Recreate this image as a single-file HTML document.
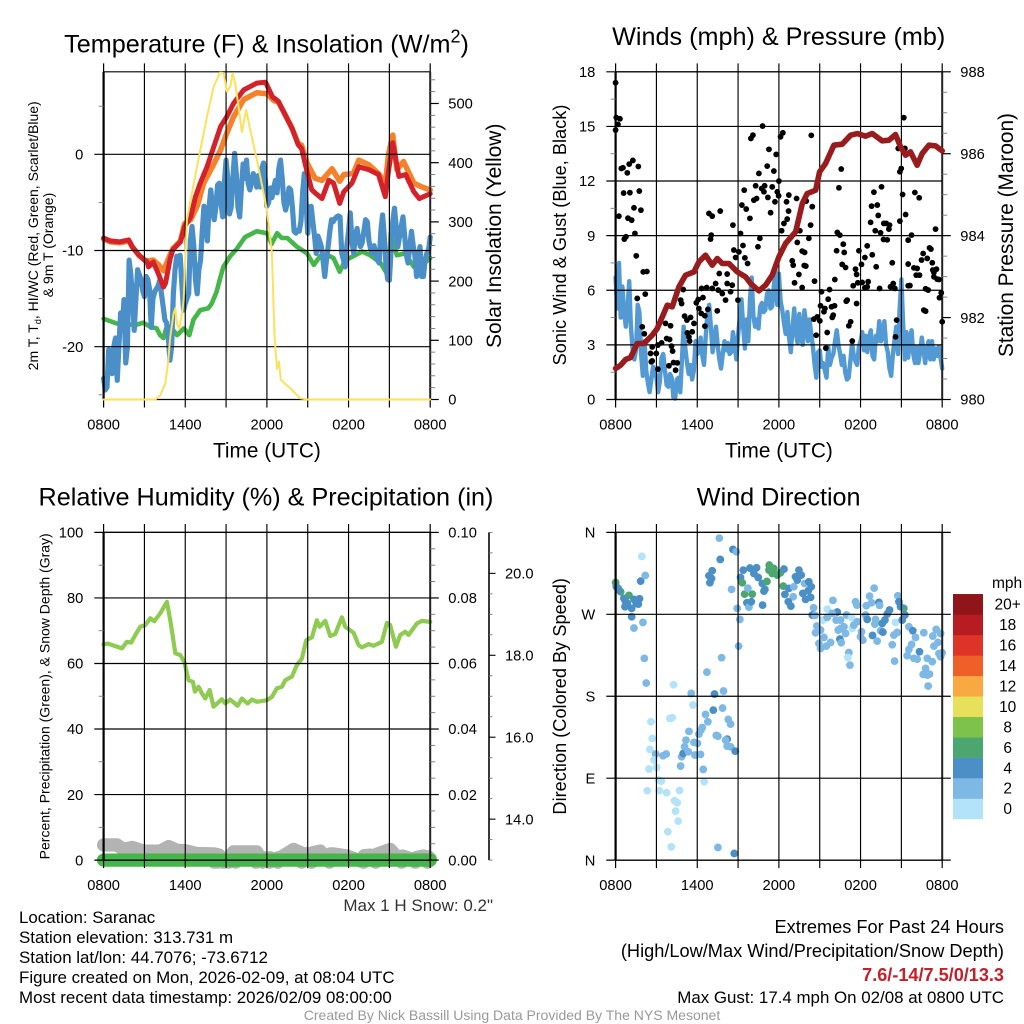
<!DOCTYPE html>
<html lang="en">
<head>
<meta charset="utf-8">
<title>NYS Mesonet Station Meteogram - Saranac</title>
<style>
html,body{margin:0;padding:0;background:#fff;}
svg{display:block;font-family:"Liberation Sans",sans-serif;}
</style>
</head>
<body>
<svg id="fig" xmlns="http://www.w3.org/2000/svg" width="1024" height="1024" viewBox="0 0 1024 1024">
<rect width="1024" height="1024" fill="#fff"/>
<defs><clipPath id="tempClip"><rect x="100" y="71.8" width="335" height="330"/></clipPath></defs>
<g id="layer"></g>
<g fill="#000">
<text x="266.5" y="52.7" font-size="25.2" text-anchor="middle">Temperature (F) &amp; Insolation (W/m<tspan font-size="18" dy="-10">2</tspan><tspan dy="10">)</tspan></text>
<text x="778.7" y="45" font-size="25.2" text-anchor="middle">Winds (mph) &amp; Pressure (mb)</text>
<text x="266" y="505.7" font-size="25.2" text-anchor="middle">Relative Humidity (%) &amp; Precipitation (in)</text>
<text x="778.7" y="505.7" font-size="25.2" text-anchor="middle">Wind Direction</text>
<text x="266.9" y="457.3" font-size="20.8" text-anchor="middle">Time (UTC)</text>
<text x="778.9" y="457.3" font-size="20.8" text-anchor="middle">Time (UTC)</text>
<text transform="translate(37.8,235.8) rotate(-90)" font-size="14" text-anchor="middle">2m T, T<tspan font-size="9" dy="3">d</tspan><tspan dy="-3">, HI/WC (Red, Green, Scarlet/Blue)</tspan></text>
<text transform="translate(53,245) rotate(-90)" font-size="14" text-anchor="middle">&amp; 9m T (Orange)</text>
<text transform="translate(501,235.8) rotate(-90)" font-size="21" text-anchor="middle">Solar Insolation (Yellow)</text>
<text transform="translate(566,235) rotate(-90)" font-size="18.2" text-anchor="middle">Sonic Wind &amp; Gust (Blue, Black)</text>
<text transform="translate(1013,235) rotate(-90)" font-size="20.8" text-anchor="middle">Station Pressure (Maroon)</text>
<text transform="translate(49.3,696.3) rotate(-90)" font-size="14" text-anchor="middle">Percent, Precipitation (Green), &amp; Snow Depth (Gray)</text>
<text transform="translate(566,696.3) rotate(-90)" font-size="18.2" text-anchor="middle">Direction (Colored By Speed)</text>
<text x="992" y="588" font-size="15.5">mph</text>
<text x="493" y="911" font-size="17" text-anchor="end" fill="#333">Max 1 H Snow: 0.2"</text>
<text x="19" y="923" font-size="16.9">Location: Saranac</text>
<text x="19" y="943" font-size="16.9">Station elevation: 313.731 m</text>
<text x="19" y="963" font-size="16.9">Station lat/lon: 44.7076; -73.6712</text>
<text x="19" y="983" font-size="16.9">Figure created on Mon, 2026-02-09, at 08:04 UTC</text>
<text x="19" y="1003" font-size="16.9">Most recent data timestamp: 2026/02/09 08:00:00</text>
<text x="1004" y="933" font-size="18.2" text-anchor="end">Extremes For Past 24 Hours</text>
<text x="1004" y="957" font-size="18.2" text-anchor="end">(High/Low/Max Wind/Precipitation/Snow Depth)</text>
<text x="1004" y="981" font-size="18.1" font-weight="bold" text-anchor="end" fill="#c4202a">7.6/-14/7.5/0/13.3</text>
<text x="1004" y="1003" font-size="16.9" text-anchor="end">Max Gust: 17.4 mph On 02/08 at 0800 UTC</text>
<text x="512" y="1020" font-size="14.03" text-anchor="middle" fill="#999">Created By Nick Bassill Using Data Provided By The NYS Mesonet</text>
</g>
</svg>
<script>
// ---- axis categories and tick labels ----
const xTickHours = [0,3,6,9,12,15,18,21,24];
const xTickLabels = ['0800','','1400','','2000','','0200','','0800'];
const tempTicks = [0,-10,-20];
const tempMinorTicks = [5,-5,-15,-25];
const solarTicks = [0,100,200,300,400,500];
const solarMinorTicks = [20,40,60,80,120,140,160,180,220,240,260,280,320,340,360,380,420,440,460,480,520,540];
const windTicks = [0,3,6,9,12,15,18];
const windMinorTicks = [1.5,4.5,7.5,10.5,13.5,16.5];
const pressureTicks = [980,982,984,986,988];
const pressureMinorTicks = [980.5,981,981.5,982.5,983,983.5,984.5,985,985.5,986.5,987,987.5];
const humidityTicks = [0,20,40,60,80,100];
const humidityMinorTicks = [10,30,50,70,90];
const precipTicks = [0,0.02,0.04,0.06,0.08,0.1];
const precipMinorTicks = [0.005,0.01,0.015,0.025,0.03,0.035,0.045,0.05,0.055,0.065,0.07,0.075,0.085,0.09,0.095];
const snowTicks = [14,16,18,20];
const snowMinorTicks = [13,13.5,14.5,15,15.5,16.5,17,17.5,18.5,19,19.5,20.5,21];
const directionTicks = [0,90,180,270,360];
const directionLabels = ['N','E','S','W','N'];
const legendLabels = ['0','2','4','6','8','10','12','14','16','18','20+'];
const legendColors = ['#b3e3f9','#7db9e4','#4a8fc5','#4ca66f','#7cc24b','#e6e05a','#f8a942','#ef6029','#dd3427','#b81c23','#8f1518'];

// ---- temperature panel series ----
const tempHours = [0,0.5,1.2,1.85,2.1,2.6,3.2,3.3,3.65,4.05,4.4,4.55,4.9,5.1,5.65,5.95,6.4,6.75,7.1,7.6,8.1,8.6,9.05,9.55,10.3,11.25,11.9,12.4,12.85,13.2,13.85,14.3,14.55,14.95,15.3,15.7,16.05,16.55,16.9,17.35,17.65,18.25,18.75,19.5,20.2,20.7,20.95,21.25,21.7,22.2,22.8,23.2,24];
const tempValues = [-8.7,-9,-9.1,-8.9,-9.6,-10.5,-11.2,-11.7,-11.2,-12.5,-13.8,-13.4,-10.8,-9.9,-9.1,-7.5,-6.5,-4.4,-3,-1.3,0.8,2.9,3.9,5.3,6.7,7.4,7.5,6,5.5,4.5,2.7,1,0.6,-1.8,-3.7,-4.2,-4.6,-2.7,-3,-5.1,-3.9,-3,-1.3,-1.6,-2.1,-4.4,-1.6,1.2,-2.3,-2.1,-3.9,-4.6,-4.1];
const temp9mHours = [0,0.5,1.2,1.85,2.1,2.6,3.1,3.65,4.05,4.4,4.9,5.1,5.65,5.95,6.4,6.9,7.35,8.1,8.6,9.05,9.55,10.3,11.25,12,12.5,12.85,13.2,13.85,14.3,14.55,14.95,15.55,16.05,16.78,17.35,17.65,18.35,18.75,19.5,20.2,20.7,20.95,21.25,21.55,22.04,22.8,23.4,24];
const temp9mValues = [-8.8,-9.1,-9.2,-9,-9.6,-10.5,-11.1,-11,-11.5,-12.1,-10.4,-9.8,-9,-7.2,-6.8,-5.3,-3,-1,0.45,2.2,3.9,5.7,6.4,6.3,5.6,5.4,4.5,2.7,1.1,0.95,-0.9,-2.5,-2.7,-1.5,-2.8,-2.1,-2,-0.6,-1.1,-2,-3,0.1,2,-1.6,-0.75,-3,-3.4,-3.7];
const chillHours = [0,1,1.85,2.45,2.9,3.4,3.9,4.15,4.4,4.6,4.9,5.4,5.9,6.3,6.6,7.1,7.7,7.95,8.3,8.6,8.8,9.3,9.8,10.4,11.25,12,12.35,12.75,13.1,13.5,14.2,14.95,15.45,15.9,16.5,16.9,17.35,17.75,18.35,19,19.6,20.35,20.95,21.1,21.55,22.15,22.8,23.4,24];
const chillValues = [-17.1,-17.6,-17.7,-17.7,-17.5,-17.9,-18.1,-18.8,-19.1,-18.1,-17.9,-18.8,-18.1,-18.8,-17.2,-16.2,-16,-15.5,-14.3,-12.7,-11.7,-10.6,-9.8,-8.6,-8,-8.2,-9.3,-8.2,-8.7,-8.7,-9.6,-10.3,-11.5,-10.6,-10.5,-10.8,-12.2,-11,-10.6,-10.1,-10.5,-11.3,-12.7,-8.2,-10.5,-10.3,-11.7,-11.5,-10.8];
const seriesStepHours = 0.125;
const dewValues = [-23.3,-24.5,-24.2,-20.3,-22,-22.8,-20,-19.1,-23.5,-20,-16.5,-18,-15.1,-21.7,-20,-11,-12.5,-15,-18.3,-15,-12,-12.5,-13,-14.2,-14.8,-12.7,-13,-14,-18,-15,-14.3,-14,-13.7,-13.1,-14.5,-15.8,-17.2,-17.5,-19,-21.4,-20,-14.5,-12,-10.6,-10.8,-10.5,-13.5,-16.2,-15.5,-15,-14.5,-9,-7.5,-9.5,-13,-14.5,-12,-11,-8,-5.4,-6.8,-9,-5.5,-3.7,-5.5,-6.8,-5.5,-3.2,-3,-5,-6.5,-3,-0.6,-2.5,-6.2,-5.5,-2.5,0.1,-2,-5.5,-6.5,-3.5,-1,-2.5,-0.6,-3,-3.7,-2.8,-2,-2.5,-3.4,-2.2,-3.4,-1.5,-0.9,-2.5,-5.4,-5,-3.5,-4.5,-3.5,-2.7,-4,-1.5,-0.6,-2.5,-5,-5.8,-5,-3.5,-3.7,-5.5,-8,-8.2,-7.9,-8,-7,-4,-2,-5,-8.2,-5.5,-5.4,-7,-8.5,-10.3,-8.5,-9,-9.6,-11,-12.7,-11,-9.6,-8,-6.8,-7,-6.7,-6.5,-6.4,-6.5,-10.3,-11,-11.7,-9.5,-8,-6.1,-9,-10.3,-8.5,-7.7,-9,-9.6,-9.2,-8,-6.8,-7,-9,-9.9,-10.3,-9.5,-10.3,-11,-11.3,-8,-6.3,-8.5,-11.5,-13,-13.1,-10,-7,-5.6,-7.5,-9.6,-8.5,-7.5,-6.5,-8.5,-10.5,-11.3,-9.5,-8,-9.5,-10.5,-12.7,-11,-9.6,-12.7,-12.7,-11,-10.3,-10,-8.6];
const solarHours = [0,3.8,4.16,4.53,4.73,4.9,5.14,5.27,5.39,5.56,5.76,5.88,6.12,6.86,7.59,8.08,8.57,8.82,9.06,9.31,9.48,9.67,9.92,10.16,10.48,10.78,11.27,11.76,12,12.37,12.56,12.74,12.88,13.03,13.72,14.45,15,24];
const solarValues = [0,0,7,27,61,106,145,154,128,120,145,168,303,393,477,528,553,551,520,528,551,534,494,452,489,455,404,348,320,247,106,52,64,33,19,2,0,0];

// ---- wind and pressure panel series ----
const windValues = [6.7,5,7.5,4.5,6.2,4.8,4,5,6.5,4,2.8,2.2,2.7,5.2,4.8,2.5,1.3,3.2,1.6,0.9,0.4,1.1,1.8,1.6,1.2,0.4,1,2.3,2.5,1.6,0.8,0.7,1.4,1.2,0.1,0.05,1.1,1.2,0.4,2.2,4,2.8,2,1.4,1.9,1.1,1.6,3.2,2.5,2.6,3.4,2.4,1.9,3.5,4.7,5.2,4,2.6,3.2,4,3,2.2,1.7,2.5,3.2,2.7,3.1,2.5,2.6,3.7,3,2.2,3.5,4.5,5.5,4,2.8,4.4,3.2,5.5,6.7,4.6,4,4.4,3.9,5.1,5.3,4.8,4.9,5.8,6,5,5.1,6.2,7.1,5.2,6.9,5.4,4.9,4.2,3.6,4.8,3.4,2.6,3.9,5,3.6,3.1,4.7,3.5,3,4.9,4.2,3.2,4.4,3.6,2.9,1.9,1.2,2.6,2.7,1.8,2,1.6,1.2,2.9,1.9,2.3,2.5,3.2,3.8,3,2.5,1.9,2.4,1.5,1.1,1.2,2.1,3.1,2.4,2.1,1.9,2.9,3.2,3.7,2.7,3.5,2.6,3.4,3.8,2.4,2.2,3.5,3.2,4.3,3.2,3.6,4.3,3,2.6,1.7,1.3,2.5,3.3,4,2.5,5,6.6,4.2,2.2,3.7,2.3,3.3,3.8,2.5,2,2.9,2,2.6,3.4,2.7,2,2.8,3.2,2.2,3.2,2.2,2.8,2.4,2.9,2.3,1.7];
const gustHours = [0,0,0.05,0.17,0.32,0.42,0.54,0.86,1,1.27,1.67,0.59,1.05,1.74,0.24,0.91,1.18,1.35,1.86,0.76,0.64,1.42,1.52,2.03,2.3,2.18,1.59,1.96,2.11,2.57,2.62,2.69,2.69,2.99,3.11,3.38,3.67,4.04,3.75,3.97,4.11,4.19,4.26,4.53,3.92,4.41,3.11,4.78,4.85,4.97,5.07,5.24,5.51,5.27,5.39,5.63,5.76,5.44,5.93,6.07,6.12,6.42,6.29,6.56,6.56,6.32,6.69,6.78,6.86,7.1,7.69,6.98,7.03,7.35,7.62,7.1,7.47,7.54,7.84,8.2,8.08,8.2,8.57,8.45,8.62,8.69,8.82,8.99,9.06,9.18,9.36,9.28,9.45,9.6,9.5,9.7,9.87,9.94,10.09,10.16,10.36,10.29,10.46,10.6,10.53,10.8,10.73,10.95,10.9,11.14,11.27,11.19,11.39,11.51,11.63,11.8,11.71,11.88,12,12.12,12.29,11.98,12.2,12.37,12.56,12.73,12.61,12.71,12.98,13.05,13.3,13.35,13.15,13.47,13.54,13.71,13.89,13.86,13.98,13.71,14.01,14.2,14.33,14.38,14.45,14.62,14.57,14.82,15.01,14.74,15.06,15.13,15.31,15.38,15.55,15.45,15.62,15.72,15.87,16.09,15.92,15.99,16.11,16.24,16.29,16.41,16.48,16.58,16.73,16.8,16.65,16.9,17.02,16.95,17.14,17.27,17.39,17.71,17.46,17.63,17.71,17.88,18.07,17.8,18.12,18.32,18.49,18.32,18.49,18.56,18.74,18.81,18.98,19.23,19.3,19.08,19.47,19.54,19.71,19.89,20.08,20.13,19.69,19.96,18.86,19.15,19.4,20.33,20.2,20.52,20.4,20.57,20.65,20.77,20.89,20.99,21.09,21.18,21.26,20.89,21.31,21.5,21.75,21.5,21.5,21.63,21.99,22.31,21.92,22.16,22.33,22.09,22.48,22.6,22.9,22.78,22.97,22.65,22.78,23.07,23.17,23.27,23.31,23.51,23.39,23.58,23.39,23.63,23.76,23.8,23.93,24];
const gustSpeeds = [17.4,14.8,15.49,15.11,15.42,12.69,12.73,12.45,12.93,13.13,12.8,11.34,11.36,11.45,10.07,9.96,9.85,10.53,10.4,8.94,8.81,9.12,7.89,7.01,7.03,5.79,5.55,3.99,3.61,2.53,2.07,2.12,2.89,2.53,2.99,3.11,4.18,4.05,3.35,3.3,2.93,2.66,2.03,2.01,1.85,1.61,1.67,5.46,5.27,6.04,4.58,4.36,4.51,3.66,3.44,3.72,4.18,3.21,5.31,5.49,5,5.6,4.73,4.6,4.03,6.1,6.15,4.95,10.22,10.07,10.35,8.81,9.03,6.37,6.92,6.1,4.87,6.01,5.82,6.89,5.46,6.37,6.28,5.92,9.58,8.21,7.8,5.46,8.11,9.12,8.46,10.68,11.5,10.46,7.78,7.47,9.95,14.34,14.52,10.95,11.04,11.74,8.39,8.85,12.42,15.02,11.59,11.74,11.41,12.82,13.74,11.1,10.26,11.68,12.55,13.46,10.86,11.41,12,14.43,14.65,11.19,9.27,9.67,10.86,11.23,9.91,10.35,7.62,7.38,11.04,8.63,6.41,6.87,9.27,8.15,8.08,7.36,7.33,6.15,10.9,8.85,9.58,14.51,10.59,6.5,4.41,4.54,4.32,3.53,5.15,5.92,4.82,5,3.68,2.82,5.51,6.04,5.09,5.15,4.51,4.63,6.59,8.17,9.18,11.63,9.03,12.66,8.53,8.08,7.42,7.25,5.46,5.4,4.05,4.27,3.21,5.27,6.25,7.16,6.87,8.17,7.42,6.41,6.43,6.14,6.19,7.8,8.44,6.47,9.73,10.62,11.39,10.68,10.11,9.27,9.16,11.68,9.67,9.67,9.36,9.58,8.79,8.77,7.95,7.29,6.1,7.51,6.19,6.1,6.37,3.44,4.36,13.79,12.51,12.69,11.26,15.48,13.79,9.8,10.16,8.75,9.03,7.44,6.25,6.26,11.37,11.08,7.23,7.2,6.83,6.83,7.66,8.02,7.75,6.08,6.01,4.91,4.85,8.33,8.26,7.51,7.11,9.36,6.98,7.16,6.74,6.61,6.59,5.59,5.86,4.27];
const pressureHours = [0,0.37,0.73,1.1,1.59,2.08,2.69,3.06,3.43,3.8,4.16,4.65,5.14,5.76,6.12,6.61,7.1,7.47,7.84,8.33,8.94,9.55,9.92,10.53,11.02,11.51,12,12.49,13.23,13.72,14.08,14.7,14.99,15.43,16.04,16.65,17.27,17.76,18.37,18.86,19.59,20.08,20.57,20.94,21.31,21.67,22.16,22.53,23.02,23.51,24];
const pressureValues = [980.757,980.838,980.976,981.025,981.367,981.367,981.57,981.733,982.018,982.303,982.262,982.75,983.035,983.116,983.36,983.523,983.279,983.442,983.32,983.32,983.116,982.994,982.832,982.653,982.791,983.035,983.483,983.808,984.093,984.784,985.028,985.11,985.557,985.761,986.208,986.233,986.452,986.493,986.428,986.493,986.314,986.33,986.469,986.168,985.964,986.046,985.72,986.005,986.208,986.192,986.07];

// ---- humidity, precipitation and snow panel series ----
const humidityHours = [0,0.29,0.86,1.35,1.71,2.03,2.33,2.69,3.06,3.43,3.72,4.16,4.65,4.9,5.27,5.63,5.93,6.24,6.56,6.71,6.98,7.22,7.47,7.79,8.08,8.69,8.94,9.31,9.84,10.16,10.58,10.9,11.27,12,12.37,12.73,13.1,13.35,13.84,14.2,14.57,14.89,15.31,15.67,15.87,16.29,16.65,17.02,17.51,17.76,18.37,18.74,18.98,19.47,19.84,20.45,20.82,21.06,21.48,21.8,22.16,22.41,23.02,23.39,24];
const humidityValues = [65.8,66.1,65.3,64.6,66.6,66.4,68.7,71.2,71.7,73.8,72.9,75.3,78.8,73.2,63.1,62.6,60.5,54.9,54.4,51.4,52.9,50.9,49.3,51.9,46.8,49.1,47.8,49,47.1,49.3,47.8,49,48.3,48.8,49.8,52.4,52.9,54.9,56,59.5,61.5,67.1,68,73.2,71.2,73,68.4,69,74.1,71.2,69.4,65.6,64.9,65.9,65.4,66.6,72.4,71.7,65.1,68.7,69.7,68.7,72.2,73,72.7];
const precipHours = [0,24];
const precipValues = [0,0];
const snowHours = [0,0.98,1.47,2.08,2.94,4.16,4.78,5.39,6,6.86,8.1,8.13,8.33,8.4,8.5,8.8,8.94,9.2,9.3,9.55,9.7,9.75,11.14,11.2,11.25,11.51,11.7,11.75,12.2,12.25,12.8,12.85,12.98,13.96,14.5,14.55,14.94,15.3,15.35,15.92,16.6,16.65,16.9,17.88,19.1,19.15,19.59,20,20.05,21.06,21.9,21.95,22.53,22.9,22.95,23.51,23.8,23.85,24];
const snowValues = [13.37,13.37,13.26,13.31,13.22,13.22,13.33,13.24,13.23,13.16,13.15,12.95,13.14,12.95,13.12,12.95,13.04,12.95,13.1,13.2,12.95,13.2,13.2,12.95,13.2,13.06,12.95,13.06,12.95,13.06,12.95,13.06,13.06,13.26,13.18,12.95,13.16,12.95,13.18,13.22,12.95,13.15,13.15,13.1,12.95,13.11,13.12,12.95,13.14,13.26,12.95,13.1,13.04,12.95,13.06,13.1,12.95,13.08,13.04];

// ---- wind direction panel series ----
const dirHours = [0,0.2,0.37,0.98,0.05,0.24,0.61,0.73,0.69,0.86,1.18,1.35,1.52,1.76,1.67,1.18,1.35,2.01,1.84,2.18,1.93,2.11,2.25,2.6,2.69,2.52,2.94,2.82,3.01,2.45,3.18,3.36,2.33,3.21,3.75,3.48,3.72,3.99,4.16,4.26,4.33,4.53,4.41,4.7,4.6,3.84,4.09,4.78,4.85,4.97,5.07,5.17,5.39,5.34,5.56,5.68,5.76,6.02,5.83,6.24,6.44,6.51,6.12,6.27,6.37,6.61,6.78,6.71,7.18,7.27,7.93,7.86,7.79,7.4,7.52,8.28,8.45,8.2,8.08,8.2,8.45,8.79,7.52,8.72,7.62,8.62,8.87,7.69,7.1,6.86,7.05,6.93,8.52,9.18,9.31,9.38,9.48,10.04,9.72,8.94,9.13,9.04,9.65,9.8,9.97,9.87,10.36,10.16,10.48,10.78,10.9,10.97,11.12,10.8,11.29,11.27,11.63,11.51,11.88,12.12,12.37,12.32,12.44,12.73,13.1,13.05,12.69,12.88,13.22,13.47,13.64,13.35,13.89,14.2,14.38,13.76,14.16,14.33,13.96,14.55,14.45,14.65,14.79,14.69,15.06,14.94,15.31,15.06,15.48,15.8,15.23,15.55,15.97,16.29,15.55,15.92,16.21,16.53,16.53,16.36,16.78,16.97,16.48,16.58,16.9,17.39,17.34,17.63,17.73,17.51,17.76,18.07,18,18.17,18.37,18.49,18.42,18.66,18.81,19,19.35,19.1,19.05,18.88,19.22,19.4,19.59,19.79,19.47,19.64,19.96,20.13,20.57,20.45,20.69,20.33,20.5,20.74,20.82,21.18,20.94,21.26,21.06,21.55,21.84,22.04,21.75,21.55,21.43,21.92,22.16,22.33,22.65,22.78,22.6,22.9,23.07,22.97,22.9,23.27,23.31,23.56,23.88,23.39,23.68,23.76,24,23.88,17.14,17.07,17.22];
const dirDegrees = [305,298.5,294.8,290.8,300.3,296.6,287.5,283.8,278.3,282,276.5,286.4,282,287.1,281.2,267.3,254.9,261.1,306.5,312.7,333.6,221.6,194.5,152,133.7,121.6,116.5,109.9,101.8,100,87.9,86.8,76.2,76.2,74,114.6,116.5,155.6,156.4,192.6,65.2,63,53.8,76.5,42.8,31.1,14.6,103.3,113.5,117.2,124.5,131.8,141.4,119,183.1,170.3,129.3,128.2,115.4,116.1,99.6,86.1,138.4,142.8,145.7,160,152,206.5,164.8,182.4,185.7,167,222.3,137,136.2,154.5,149.4,132.9,131.8,125.2,124.5,119.7,13.9,7.3,353.7,341.3,338.7,330.3,317.9,312.4,309.4,304.7,297.4,310.5,304.7,318.6,292.2,292.2,298.8,276.5,264.4,235.1,282.7,277.9,283.8,320.8,321.2,314.9,310.5,303.9,295.5,297.4,306.1,280.1,324.1,318.6,320.4,314.9,313.1,315.7,319.7,301,291.9,298.5,300.3,289.3,283.8,279,311.3,318.6,313.1,307.6,303.9,305.8,300.3,293,295.9,288.6,286.4,277.2,269.2,268.8,257.1,249.7,252.7,238,244.6,232.5,235.1,239.1,263.7,275.7,285.3,272.5,266.6,271,263.7,263.7,254.5,252.7,256.3,269.2,242.8,238.8,249,254.5,266.6,283.8,280.1,258.2,261.8,250.8,245.4,241.7,269.2,264.4,279.4,290,282.7,298.8,283.1,264.4,259.3,246.8,240.6,279.8,260,263.7,251.9,250.5,270.3,274.7,261.1,247.2,250.1,236.6,218.6,290.4,283.8,276.5,278.3,269.2,263.7,256.3,251.9,244.6,236.9,231.4,224.5,221.6,220.8,228.9,249.8,210.6,204,203.2,204.3,191.2,221.6,217.9,246.1,253.4,249,235.1,239.1,227,227.8,223.4,228.1,222.6,214.2];
const dirSpeeds = [6,8,6,6,4,4,4,4,4,4,4,4,4,4,4,4,2,2,4,2,0,2,2,0,0,0,2,0,0,0,0,0,0,0,0,2,2,0,0,0,0,0,0,0,0,0,0,2,2,4,2,2,2,2,2,0,2,2,2,2,2,0,2,2,2,2,2,2,4,4,2,2,2,2,2,2,2,4,2,2,2,4,2,4,2,4,2,4,4,4,4,4,2,4,6,4,6,6,2,2,2,2,4,2,4,4,4,4,4,4,4,4,6,4,6,6,6,6,6,6,4,6,4,4,2,2,4,4,4,4,4,4,2,4,4,4,4,4,4,2,4,2,2,2,2,2,2,2,2,2,0,0,2,4,2,2,2,2,2,2,2,2,4,2,2,0,0,2,2,2,2,2,2,2,2,4,2,2,2,2,4,2,2,4,2,2,4,4,2,4,4,4,0,2,2,2,2,2,4,6,4,4,4,2,4,2,2,2,2,2,2,4,2,2,2,2,2,2,2,2,2,2,2,2,2,2,2,2,2,0,2,2];

// ---- panel geometry and axis functions ----
const panelTL = {x0:103.6,x1:430.2,y0:71.8,y1:399.5};
const panelTR = {x0:615.6,x1:942.2,y0:71.8,y1:399.5};
const panelBL = {x0:103.6,x1:430.2,y0:532.4,y1:860.1};
const panelBR = {x0:615.6,x1:942.2,y0:532.4,y1:860.1};
const SVGNS = 'http://www.w3.org/2000/svg';
const layer = document.getElementById('layer');

function xAt(p,h){ return p.x0 + h/24*(p.x1-p.x0); }
function yAt(p,v,lo,hi){ return p.y1 - (v-lo)/(hi-lo)*(p.y1-p.y0); }

function addLine(parent,x1,y1,x2,y2,w,color,name){
  const el = document.createElementNS(SVGNS,'line');
  el.setAttribute('x1',x1); el.setAttribute('y1',y1);
  el.setAttribute('x2',x2); el.setAttribute('y2',y2);
  el.setAttribute('stroke',color); el.setAttribute('stroke-width',w);
  
  
  parent.appendChild(el);
  return el;
}
function addLabel(parent,x,y,txt,anchor,size,name){
  const el = document.createElementNS(SVGNS,'text');
  el.setAttribute('x',x); el.setAttribute('y',y);
  el.setAttribute('text-anchor',anchor); el.setAttribute('font-size',size);
  el.setAttribute('fill','#000');
  el.textContent = txt;
  
  
  parent.appendChild(el);
  return el;
}
function addSeries(p,hours,values,lo,hi,color,w,name,clip){
  const el = document.createElementNS(SVGNS,'polyline');
  const pts = hours.map(function(h,i){ return xAt(p,h).toFixed(2)+','+yAt(p,values[i],lo,hi).toFixed(2); });
  el.setAttribute('points',pts.join(' '));
  el.setAttribute('fill','none');
  el.setAttribute('stroke',color);
  el.setAttribute('stroke-width',w);
  el.setAttribute('stroke-linejoin','round');
  el.setAttribute('stroke-linecap','round');
  if(clip){ el.setAttribute('clip-path','url(#'+clip+')'); }
  
  
  layer.appendChild(el);
  return el;
}
function addFrame(p,prefix,xLabels){
  xTickHours.forEach(function(h,i){
    const x = xAt(p,h);
    addLine(layer,x,p.y0-8.4,x,p.y1+8,i===0||i===8?1.2:1.15,'#000',prefix+'-vertical-gridline');
    if(xLabels && xTickLabels[i]){
      addLabel(layer,x,p.y1+29.8,xTickLabels[i],'middle',14.7,prefix+'-x-tick-label');
    }
  });
  addLine(layer,p.x0,p.y0,p.x1,p.y0,1.2,'#000',prefix+'-frame-top');
  addLine(layer,p.x0,p.y1,p.x1,p.y1,1.2,'#000',prefix+'-frame-bottom');
  addLine(layer,p.x0,p.y0,p.x0,p.y1,2.2,'#000',prefix+'-frame-left');
  addLine(layer,p.x1,p.y0,p.x1,p.y1,2,'#222',prefix+'-frame-right');
}
function addLeftTicks(p,ticks,minor,lo,hi,prefix,labels,toRight){
  ticks.forEach(function(v,i){
    const y = yAt(p,v,lo,hi);
    addLine(layer,p.x0-9.3,y,toRight?p.x1+8.6:p.x1,y,1.2,'#000',prefix+'-left-gridline');
    const t = labels ? labels[i] : String(v);
    addLabel(layer,p.x0-20.3,y+5.2,t,'end',14.7,prefix+'-left-tick-label');
  });
  minor.forEach(function(v){
    const y = yAt(p,v,lo,hi);
    addLine(layer,p.x0-5,y,p.x0,y,0.9,'#777',prefix+'-left-minor-tick');
  });
}
function addRightTicks(p,ticks,minor,lo,hi,prefix,digits){
  ticks.forEach(function(v){
    const y = yAt(p,v,lo,hi);
    addLine(layer,p.x1,y,p.x1+8.6,y,1.2,'#000',prefix+'-right-tick');
    addLabel(layer,p.x1+18.1,y+5.2,v.toFixed(digits),'start',14.7,prefix+'-right-tick-label');
  });
  minor.forEach(function(v){
    const y = yAt(p,v,lo,hi);
    addLine(layer,p.x1,y,p.x1+5,y,0.9,'#777',prefix+'-right-minor-tick');
  });
}
function addDots(p,xs,ys,lo,hi,r,colorFn,name){
  xs.forEach(function(h,i){
    const el = document.createElementNS(SVGNS,'circle');
    el.setAttribute('cx',xAt(p,h).toFixed(2));
    el.setAttribute('cy',yAt(p,ys[i],lo,hi).toFixed(2));
    el.setAttribute('r',r);
    el.setAttribute('fill',colorFn(i));
    
    
    layer.appendChild(el);
  });
}
function stepHours(values){ return values.map(function(v,i){ return i*seriesStepHours; }); }

// ---- temperature panel ----
const tempLo = -25.49, tempHi = 8.58, solarLo = 0, solarHi = 553.5;
addSeries(panelTL,chillHours,chillValues,tempLo,tempHi,'#45b649',4.6,'wind-chill-line');
addSeries(panelTL,stepHours(dewValues),dewValues,tempLo,tempHi,'#4b8fc8',5.2,'dew-point-line');
addSeries(panelTL,temp9mHours,temp9mValues,tempLo,tempHi,'#f5812a',5.5,'temperature-9m-line');
addSeries(panelTL,tempHours,tempValues,tempLo,tempHi,'#d3222a',5,'temperature-2m-line');
addFrame(panelTL,'temperature',true);
addLeftTicks(panelTL,tempTicks,tempMinorTicks,tempLo,tempHi,'temperature');
addRightTicks(panelTL,solarTicks,solarMinorTicks,solarLo,solarHi,'solar',0);
addSeries(panelTL,solarHours,solarValues,solarLo,solarHi,'#fde15a',2,'solar-insolation-line','tempClip');

// ---- wind panel ----
const windLo = 0, windHi = 18, pressLo = 980, pressHi = 988;
addSeries(panelTR,stepHours(windValues),windValues,windLo,windHi,'#5399d4',4.4,'sonic-wind-line');
addFrame(panelTR,'winds',true);
addLeftTicks(panelTR,windTicks,windMinorTicks,windLo,windHi,'winds');
addRightTicks(panelTR,pressureTicks,pressureMinorTicks,pressLo,pressHi,'pressure',0);
addDots(panelTR,gustHours,gustSpeeds,windLo,windHi,2.9,function(){return '#000';},'wind-gust-point');
addSeries(panelTR,pressureHours,pressureValues,pressLo,pressHi,'#981b1e',5.6,'station-pressure-line');

// ---- humidity panel ----
const rhLo = 0, rhHi = 100, precipLo = 0, precipHi = 0.1, snowLo = 13, snowHi = 21;
addSeries(panelBL,snowHours,snowValues,snowLo,snowHi,'#b3b3b3',13.3,'snow-depth-line');
addSeries(panelBL,precipHours,precipValues,precipLo,precipHi,'#45b649',13.3,'precipitation-line');
addSeries(panelBL,humidityHours,humidityValues,rhLo,rhHi,'#8ecb50',4.2,'relative-humidity-line');
addFrame(panelBL,'humidity',true);
addLeftTicks(panelBL,humidityTicks,humidityMinorTicks,rhLo,rhHi,'humidity',null,false);
addRightTicks(panelBL,precipTicks,precipMinorTicks,precipLo,precipHi,'precipitation',2);
addLine(layer,489,panelBL.y0,489,panelBL.y1,1.8,'#222','snow-axis-line');
snowTicks.forEach(function(v){
  const y = yAt(panelBL,v,snowLo,snowHi);
  addLine(layer,489,y,495.5,y,1.1,'#000','snow-axis-tick');
  addLabel(layer,505,y+5.2,v.toFixed(1),'start',14.7,'snow-axis-tick-label');
});
snowMinorTicks.forEach(function(v){
  const y = yAt(panelBL,v,snowLo,snowHi);
  addLine(layer,489,y,492.5,y,0.9,'#777','snow-axis-minor-tick');
});

// ---- wind direction panel ----
addDots(panelBR,dirHours,dirDegrees,0,360,3.9,function(i){ return legendColors[Math.round(dirSpeeds[i]/2)]; },'wind-direction-point');
addFrame(panelBR,'direction',true);
addLeftTicks(panelBR,directionTicks,[],0,360,'direction',directionLabels,true);

// ---- colorbar legend ----
legendColors.forEach(function(c,i){
  const el = document.createElementNS(SVGNS,'rect');
  const yTop = 819 - (i+1)*20.45;
  el.setAttribute('x',953); el.setAttribute('y',yTop);
  el.setAttribute('width',30); el.setAttribute('height',20.7);
  el.setAttribute('fill',c);
  
  
  layer.appendChild(el);
  addLabel(layer,1007.7,yTop+15.6,legendLabels[i],'middle',15.5,'colorbar-label');
});
</script>
</body>
</html>
